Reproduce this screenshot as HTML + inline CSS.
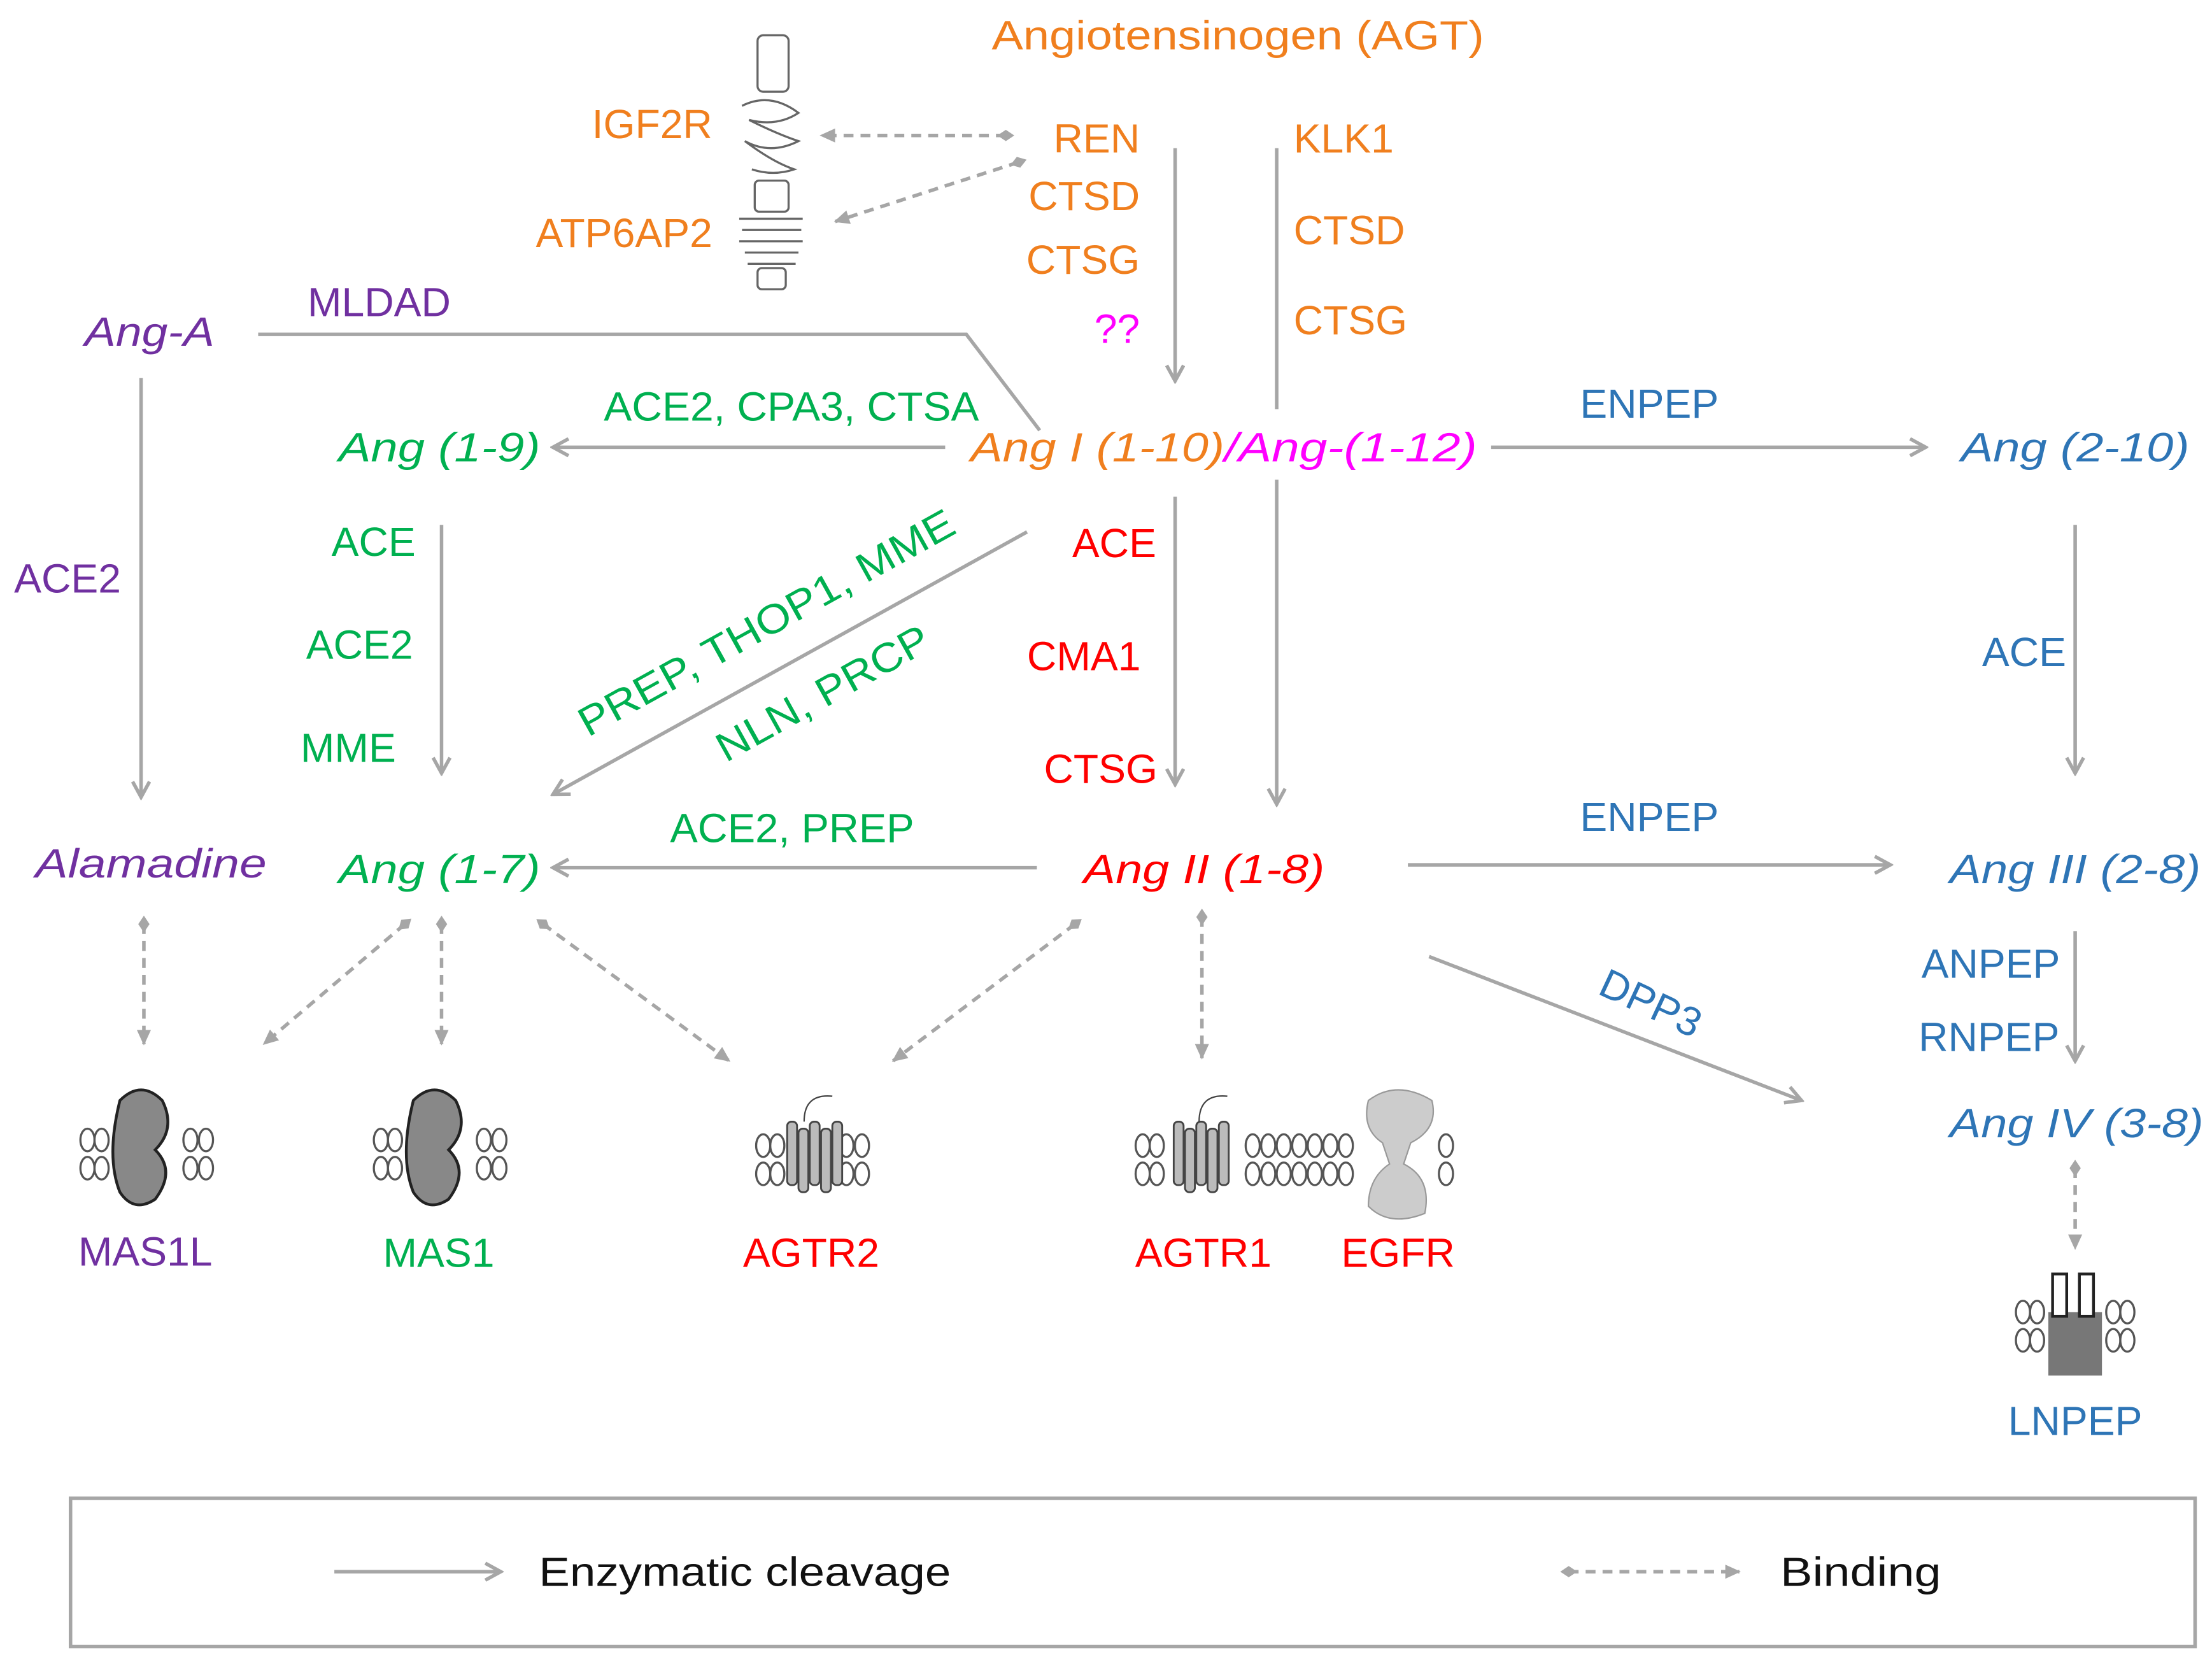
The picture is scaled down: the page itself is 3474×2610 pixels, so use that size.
<!DOCTYPE html>
<html><head><meta charset="utf-8"><style>
html,body{margin:0;padding:0;background:#fff}
svg{display:block}
text{font-family:"Liberation Sans",sans-serif;font-size:29px}
.o{fill:#F07F1E}.g{fill:#00B050}.r{fill:#FF0000}.p{fill:#7030A0}.b{fill:#2E75B6}.m{fill:#FF00FF}.k{fill:#111}
.i{font-style:italic}
.l{stroke:#A6A6A6;stroke-width:2.5;fill:none}
.d{stroke:#A6A6A6;stroke-width:2.5;fill:none;stroke-dasharray:7,5}
.mem{stroke:#555;stroke-width:1.5;fill:#fff}
</style></head><body>
<svg width="3474" height="2610" viewBox="0 0 1568 1178" xmlns="http://www.w3.org/2000/svg">
<defs>
<marker id="a" markerWidth="14" markerHeight="14" refX="12" refY="7" orient="auto" markerUnits="userSpaceOnUse"><path d="M1,1 L12,7 L1,13" fill="none" stroke="#A6A6A6" stroke-width="2.5"/></marker>
<marker id="t" markerWidth="12" markerHeight="12" refX="10" refY="6" orient="auto" markerUnits="userSpaceOnUse"><path d="M0,1 L11,6 L0,11 Z" fill="#A6A6A6"/></marker>
<marker id="dm" markerWidth="12" markerHeight="12" refX="6" refY="6" orient="auto" markerUnits="userSpaceOnUse"><path d="M0,6 L6,2 L12,6 L6,10 Z" fill="#A6A6A6"/></marker>
<g id="mem">
<ellipse cx="0" cy="0" rx="5" ry="8" class="mem"/><ellipse cx="0" cy="20" rx="5" ry="8" class="mem"/>
</g>
</defs>

<text x="703" y="35" class="o" textLength="349" lengthAdjust="spacingAndGlyphs">Angiotensinogen (AGT)</text>
<text x="505" y="98" class="o" text-anchor="end">IGF2R</text>
<text x="505" y="175" class="o" text-anchor="end">ATP6AP2</text>
<text x="808" y="108" class="o" text-anchor="end">REN</text>
<text x="808" y="149" class="o" text-anchor="end">CTSD</text>
<text x="808" y="194" class="o" text-anchor="end">CTSG</text>
<text x="808" y="243" class="m" text-anchor="end">??</text>
<text x="917" y="108" class="o">KLK1</text>
<text x="917" y="173" class="o">CTSD</text>
<text x="917" y="237" class="o">CTSG</text>

<g stroke="#666" stroke-width="1.5" fill="none">
<rect x="537" y="25" width="22" height="40" rx="4"/>
<path d="M526,75 q20,-10 40,5 q-15,10 -35,5 q20,10 35,15 q-20,10 -38,0 q20,15 35,20 q-15,5 -30,0"/>
<rect x="535" y="128" width="24" height="22" rx="3"/>
<path d="M524,155 h45 M526,163 h42 M524,171 h45 M528,179 h38 M530,187 h34"/>
<rect x="537" y="190" width="20" height="15" rx="3"/>
</g>
<line x1="713" y1="96" x2="582" y2="96" class="d" marker-start="url(#dm)" marker-end="url(#t)"/>
<line x1="722" y1="115" x2="592" y2="157" class="d" marker-start="url(#dm)" marker-end="url(#t)"/>

<line x1="833" y1="105" x2="833" y2="270" class="l" marker-end="url(#a)"/>
<line x1="905" y1="105" x2="905" y2="290" class="l"/>

<text x="60" y="245" class="p i" textLength="92" lengthAdjust="spacingAndGlyphs">Ang-A</text>
<text x="218" y="224" class="p">MLDAD</text>
<polyline points="183,237 685,237 737,305" class="l"/>
<text x="240" y="327" class="g i" textLength="143" lengthAdjust="spacingAndGlyphs">Ang (1-9)</text>
<text x="428" y="298" class="g" textLength="266" lengthAdjust="spacingAndGlyphs">ACE2, CPA3, CTSA</text>
<line x1="670" y1="317" x2="392" y2="317" class="l" marker-end="url(#a)"/>
<text x="688" y="327" class="o i" textLength="180" lengthAdjust="spacingAndGlyphs">Ang I (1-10)</text>
<text x="868" y="327" class="m i" textLength="179" lengthAdjust="spacingAndGlyphs">/Ang-(1-12)</text>
<text x="1120" y="296" class="b">ENPEP</text>
<line x1="1057" y1="317" x2="1365" y2="317" class="l" marker-end="url(#a)"/>
<text x="1390" y="327" class="b i" textLength="162" lengthAdjust="spacingAndGlyphs">Ang (2-10)</text>

<text x="10" y="420" class="p">ACE2</text>
<line x1="100" y1="268" x2="100" y2="565" class="l" marker-end="url(#a)"/>
<text x="235" y="394" class="g">ACE</text>
<text x="217" y="467" class="g">ACE2</text>
<text x="213" y="540" class="g">MME</text>
<line x1="313" y1="372" x2="313" y2="548" class="l" marker-end="url(#a)"/>
<line x1="728" y1="377" x2="392" y2="563" class="l" marker-end="url(#a)"/>
<text transform="translate(548,450) rotate(-29)" class="g" text-anchor="middle" textLength="300" lengthAdjust="spacingAndGlyphs">PREP, THOP1, MME</text>
<text transform="translate(588,500) rotate(-29)" class="g" text-anchor="middle" textLength="168" lengthAdjust="spacingAndGlyphs">NLN, PRCP</text>
<text x="760" y="395" class="r">ACE</text>
<text x="728" y="475" class="r">CMA1</text>
<text x="740" y="555" class="r">CTSG</text>
<line x1="833" y1="352" x2="833" y2="556" class="l" marker-end="url(#a)"/>
<line x1="905" y1="340" x2="905" y2="570" class="l" marker-end="url(#a)"/>
<text x="1405" y="472" class="b">ACE</text>
<line x1="1471" y1="372" x2="1471" y2="548" class="l" marker-end="url(#a)"/>

<text x="25" y="622" class="p i" textLength="164" lengthAdjust="spacingAndGlyphs">Alamadine</text>
<text x="240" y="626" class="g i" textLength="143" lengthAdjust="spacingAndGlyphs">Ang (1-7)</text>
<text x="475" y="597" class="g" textLength="173" lengthAdjust="spacingAndGlyphs">ACE2, PREP</text>
<line x1="735" y1="615" x2="392" y2="615" class="l" marker-end="url(#a)"/>
<text x="768" y="626" class="r i" textLength="171" lengthAdjust="spacingAndGlyphs">Ang II (1-8)</text>
<text x="1120" y="589" class="b">ENPEP</text>
<line x1="998" y1="613" x2="1340" y2="613" class="l" marker-end="url(#a)"/>
<text x="1382" y="626" class="b i" textLength="178" lengthAdjust="spacingAndGlyphs">Ang III (2-8)</text>
<text x="1362" y="693" class="b">ANPEP</text>
<text x="1360" y="745" class="b">RNPEP</text>
<line x1="1471" y1="660" x2="1471" y2="752" class="l" marker-end="url(#a)"/>
<line x1="1013" y1="678" x2="1277" y2="780" class="l" marker-end="url(#a)"/>
<text transform="translate(1166,720) rotate(25)" class="b" text-anchor="middle">DPP3</text>
<text x="1382" y="806" class="b i" textLength="180" lengthAdjust="spacingAndGlyphs">Ang IV (3-8)</text>

<line x1="102" y1="655" x2="102" y2="740" class="d" marker-start="url(#dm)" marker-end="url(#t)"/>
<line x1="287" y1="655" x2="187" y2="740" class="d" marker-start="url(#dm)" marker-end="url(#t)"/>
<line x1="313" y1="655" x2="313" y2="740" class="d" marker-start="url(#dm)" marker-end="url(#t)"/>
<line x1="385" y1="655" x2="517" y2="752" class="d" marker-start="url(#dm)" marker-end="url(#t)"/>
<line x1="762" y1="655" x2="633" y2="752" class="d" marker-start="url(#dm)" marker-end="url(#t)"/>
<line x1="852" y1="650" x2="852" y2="750" class="d" marker-start="url(#dm)" marker-end="url(#t)"/>
<line x1="1471" y1="828" x2="1471" y2="885" class="d" marker-start="url(#dm)" marker-end="url(#t)"/>

<g>
<use href="#mem" x="62" y="808"/><use href="#mem" x="72" y="808"/><use href="#mem" x="135" y="808"/><use href="#mem" x="146" y="808"/>
<path d="M85,780 q15,-15 30,0 q10,20 -5,35 q15,15 0,35 q-15,10 -25,-5 q-10,-25 0,-65z" fill="#888" stroke="#222" stroke-width="2"/>
<use href="#mem" x="270" y="808"/><use href="#mem" x="280" y="808"/><use href="#mem" x="343" y="808"/><use href="#mem" x="354" y="808"/>
<path d="M293,780 q15,-15 30,0 q10,20 -5,35 q15,15 0,35 q-15,10 -25,-5 q-10,-25 0,-65z" fill="#888" stroke="#222" stroke-width="2"/>
<use href="#mem" x="541" y="812"/><use href="#mem" x="551" y="812"/><use href="#mem" x="600" y="812"/><use href="#mem" x="611" y="812"/>
<g fill="#bbb" stroke="#444" stroke-width="1.3"><rect x="558" y="795" width="7" height="45" rx="3"/><rect x="566" y="800" width="7" height="45" rx="3"/><rect x="574" y="795" width="7" height="45" rx="3"/><rect x="582" y="800" width="7" height="45" rx="3"/><rect x="590" y="795" width="7" height="45" rx="3"/></g>
<path d="M570,795 q0,-20 20,-18" stroke="#444" fill="none"/>
<use href="#mem" x="810" y="812"/><use href="#mem" x="820" y="812"/>
<use href="#mem" x="888" y="812"/><use href="#mem" x="899" y="812"/><use href="#mem" x="910" y="812"/><use href="#mem" x="921" y="812"/><use href="#mem" x="932" y="812"/><use href="#mem" x="943" y="812"/><use href="#mem" x="954" y="812"/><use href="#mem" x="1025" y="812"/>
<g fill="#bbb" stroke="#444" stroke-width="1.3"><rect x="832" y="795" width="7" height="45" rx="3"/><rect x="840" y="800" width="7" height="45" rx="3"/><rect x="848" y="795" width="7" height="45" rx="3"/><rect x="856" y="800" width="7" height="45" rx="3"/><rect x="864" y="795" width="7" height="45" rx="3"/></g>
<path d="M850,795 q0,-20 20,-18" stroke="#444" fill="none"/>
<path d="M970,780 q20,-15 45,0 q5,20 -15,30 l-5,15 q20,10 15,35 q-25,10 -40,-5 q0,-20 15,-30 l-5,-15 q-15,-10 -10,-30z" fill="#ccc" stroke="#999"/>
<use href="#mem" x="1434" y="930"/><use href="#mem" x="1444" y="930"/><use href="#mem" x="1498" y="930"/><use href="#mem" x="1508" y="930"/>
<rect x="1452" y="930" width="38" height="45" fill="#777"/>
<rect x="1455" y="903" width="10" height="30" fill="#fff" stroke="#222" stroke-width="2"/><rect x="1474" y="903" width="10" height="30" fill="#fff" stroke="#222" stroke-width="2"/>
</g>
<text x="103" y="897" class="p" text-anchor="middle">MAS1L</text>
<text x="311" y="898" class="g" text-anchor="middle">MAS1</text>
<text x="575" y="898" class="r" text-anchor="middle">AGTR2</text>
<text x="853" y="898" class="r" text-anchor="middle">AGTR1</text>
<text x="991" y="898" class="r" text-anchor="middle">EGFR</text>
<text x="1471" y="1017" class="b" text-anchor="middle">LNPEP</text>

<rect x="50" y="1062" width="1506" height="105" fill="none" stroke="#A6A6A6" stroke-width="2.5"/>
<line x1="237" y1="1114" x2="355" y2="1114" class="l" marker-end="url(#a)"/>
<text x="382" y="1124" class="k" textLength="292" lengthAdjust="spacingAndGlyphs">Enzymatic cleavage</text>
<line x1="1112" y1="1114" x2="1233" y2="1114" class="d" marker-start="url(#dm)" marker-end="url(#t)"/>
<text x="1262" y="1124" class="k" textLength="114" lengthAdjust="spacingAndGlyphs">Binding</text>
</svg>
</body></html>
